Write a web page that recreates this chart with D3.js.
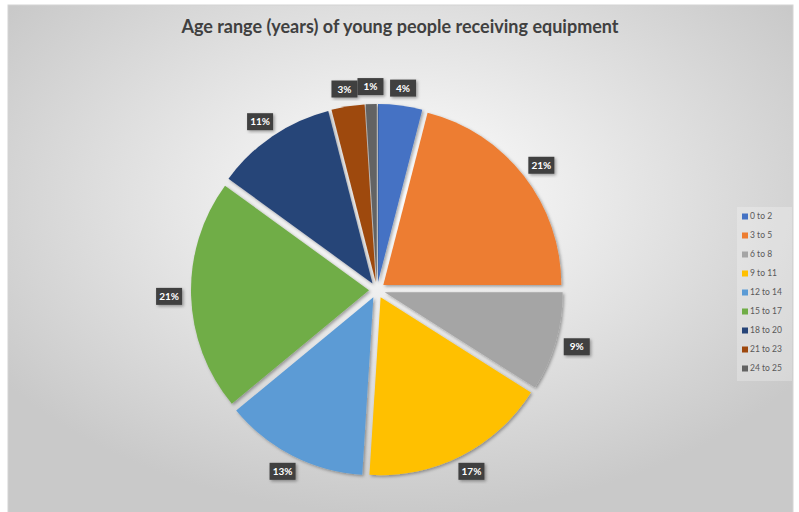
<html>
<head>
    <title>Age range (years) of young people receiving equipment</title>
    <script src="https://d3js.org/d3.v7.min.js"></script>
    <style>
        body { margin: 0; background: #ffffff; }
    </style>
</head>
<body>
    <svg id="piechart" width="799" height="512"></svg>

    <script>
        // data
        const categories = ["0 to 2", "3 to 5", "6 to 8", "9 to 11", "12 to 14", "15 to 17", "18 to 20", "21 to 23", "24 to 25"];
        const percents = [4, 21, 9, 17, 13, 21, 11, 3, 1];
        const colours = ["#4472C4", "#ED7D31", "#A5A5A5", "#FFC000", "#5B9BD5", "#70AD47", "#264478", "#9E480E", "#636363"];
        const title = "Age range (years) of young people receiving equipment";

        const svg = d3.select('svg#piechart');
        const width = +svg.attr('width');
        const height = +svg.attr('height');

        const frame = { left: 8, top: 5, right: 793, bottom: 514 };
        const centre = { x: 377, y: 290 };
        const radius = 178;
        const explode = 8;
        const labelRadius = 195;

        const defs = svg.append('defs');
        const grad = defs.append('radialGradient')
                         .attr('id', 'bg')
                         .attr('cx', '50%').attr('cy', '38%').attr('r', '62%');
        grad.append('stop').attr('offset', '0%').attr('stop-color', '#ffffff');
        grad.append('stop').attr('offset', '100%').attr('stop-color', '#c9c9c9');

        const shadow = defs.append('filter')
                           .attr('id', 'shadow')
                           .attr('x', '-20%').attr('y', '-20%')
                           .attr('width', '140%').attr('height', '140%');
        shadow.append('feDropShadow')
              .attr('dx', 1.5).attr('dy', 1.5).attr('stdDeviation', 1.5)
              .attr('flood-color', '#000').attr('flood-opacity', 0.35);

        svg.append('rect')
           .attr('x', frame.left)
           .attr('y', frame.top)
           .attr('width', frame.right - frame.left)
           .attr('height', frame.bottom - frame.top)
           .attr('fill', 'url(#bg)')
           .attr('stroke', '#d4d4d4')
           .attr('stroke-width', 1);

        svg.append('text')
           .attr('x', 400)
           .attr('y', 33)
           .attr('text-anchor', 'middle')
           .style('font-family', 'Lato, "Open Sans", sans-serif')
           .style('font-weight', 'bold')
           .style('font-size', '18px')
           .style('fill', '#404040')
           .text(title);

        const pie = d3.pie().sort(null).value(d => d);
        const arcs = pie(percents);
        const arc = d3.arc().innerRadius(0).outerRadius(radius);
        const midAngle = d => (d.startAngle + d.endAngle) / 2;

        const chartArea = svg.append('g')
                             .attr('transform', `translate(${centre.x}, ${centre.y})`);

        chartArea.append('g')
                 .selectAll('path')
                 .data(arcs)
                 .enter()
                 .append('path')
                 .attr('d', arc)
                 .attr('fill', (d, i) => colours[i])
                 .attr('filter', 'url(#shadow)')
                 .attr('transform', d => `translate(${explode * Math.sin(midAngle(d))}, ${-explode * Math.cos(midAngle(d))})`);

        // data labels, outside end, dark boxes
        const boxW = 26, boxH = 17;
        const labels = chartArea.append('g')
                                .selectAll('g')
                                .data(arcs)
                                .enter()
                                .append('g')
                                .attr('transform', d => {
                                    const a = midAngle(d);
                                    const x = labelRadius * Math.sin(a) + (boxW / 2) * Math.sin(a);
                                    const y = -labelRadius * Math.cos(a) - (boxH / 2) * Math.cos(a);
                                    return `translate(${x}, ${y})`;
                                });

        labels.append('rect')
              .attr('x', -boxW / 2)
              .attr('y', -boxH / 2)
              .attr('width', boxW)
              .attr('height', boxH)
              .attr('fill', '#404040')
              .attr('filter', 'url(#shadow)');

        labels.append('text')
              .attr('text-anchor', 'middle')
              .attr('dy', '0.35em')
              .style('font-family', 'Lato, "Open Sans", sans-serif')
              .style('font-weight', 'bold')
              .style('font-size', '10px')
              .style('fill', '#ffffff')
              .text(d => d.data + '%');

        // legend
        const legendY = d3.scaleBand()
                          .domain(categories)
                          .range([207, 378])
                          .padding(0);

        svg.append('rect')
           .attr('x', 737)
           .attr('y', 207)
           .attr('width', 55)
           .attr('height', 174)
           .attr('fill', '#ffffff')
           .attr('opacity', 0.25);

        const legend = svg.append('g')
                          .selectAll('g')
                          .data(categories)
                          .enter()
                          .append('g')
                          .attr('transform', d => `translate(742, ${legendY(d) + legendY.bandwidth() / 2})`);

        legend.append('rect')
              .attr('x', 0)
              .attr('y', -3)
              .attr('width', 6)
              .attr('height', 6)
              .attr('fill', (d, i) => colours[i]);

        legend.append('text')
              .attr('x', 8)
              .attr('dy', '0.35em')
              .style('font-family', 'Lato, "Open Sans", sans-serif')
              .style('font-size', '8.5px')
              .style('fill', '#595959')
              .text(d => d);
    </script>
</body>
</html>
